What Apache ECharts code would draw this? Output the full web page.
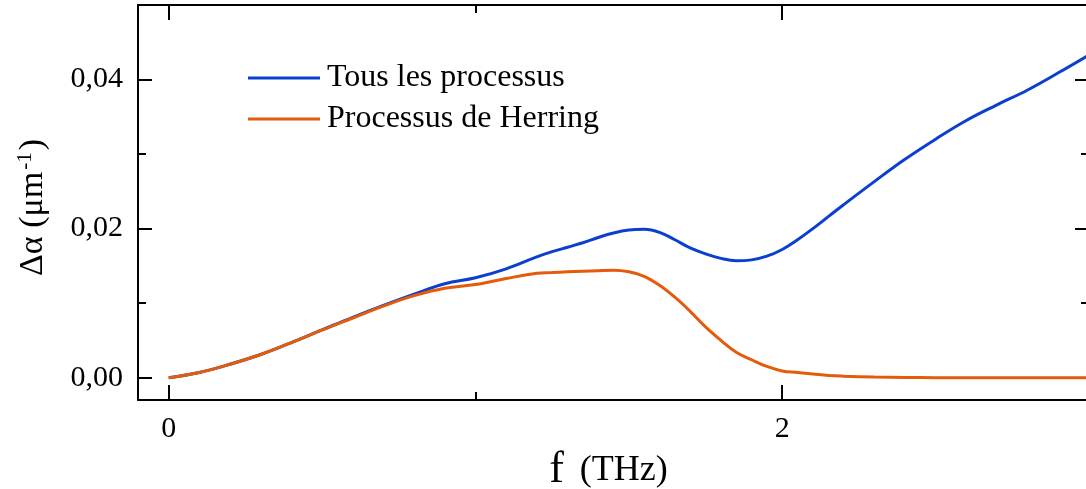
<!DOCTYPE html>
<html>
<head>
<meta charset="utf-8">
<script src="https://cdn.jsdelivr.net/npm/echarts@6/dist/echarts.min.js"></script>
<style>
html,body{margin:0;padding:0;background:#fff;}
#chart{width:1086px;height:489px;}
</style>
</head>
<body>
<div id="chart"></div>
<script>
// Data (frequency in THz, delta alpha in µm^-1)
const freq = [0,0.1,0.2,0.3,0.4,0.5,0.6,0.7,0.8,0.9,1.0,1.1,1.2,1.25,1.3,1.35,1.4,1.45,1.5,1.55,1.6,1.65,1.7,1.75,1.8,1.85,1.9,1.95,2.0,2.05,2.1,2.15,2.2,2.3,2.4,2.5,2.6,2.7,2.8,2.9,3.0];
const tousLesProcessus = [0,0.0007,0.0018,0.0031,0.0047,0.0064,0.0081,0.0097,0.0112,0.0126,0.0134,0.0146,0.0162,0.0169,0.0175,0.0181,0.0188,0.0194,0.0198,0.0199,0.0195,0.0185,0.0174,0.0166,0.0160,0.01568,0.0158,0.0163,0.0172,0.0185,0.0200,0.0216,0.0232,0.0263,0.0293,0.0320,0.0345,0.0366,0.0386,0.0409,0.0433];
const processusHerring = [0,0.0007,0.0018,0.0031,0.0047,0.0064,0.0080,0.0096,0.0110,0.0120,0.0125,0.0133,0.0140,0.0141,0.0142,0.01428,0.01435,0.0144,0.0142,0.0136,0.0124,0.0108,0.0089,0.0068,0.0050,0.0034,0.0024,0.0015,0.0009,0.0007,0.0005,0.0003,0.0002,0.00008,0.00002,0,0,0,0,0,0];
const xMajorTicks = [0, 2];
const xMinorTicks = [1, 3];
const yMajorTicks = [0, 0.02, 0.04];
const yMinorTicks = [0.01, 0.03];
const seriesNames = ['Tous les processus', 'Processus de Herring'];

const FONT = "'Liberation Serif', 'Times New Roman', serif";
const chart = echarts.init(document.getElementById('chart'));
const XMIN = -0.1, XMAX = 3.0, YMIN = -0.003, YMAX = 0.05;
const fmtY = v => v.toFixed(2).replace('.', ',');

function xAx(pos, ticks, len, showLine, showLabel) {
  return {
    type: 'value', position: pos, min: XMIN, max: XMAX,
    axisLine: {show: showLine, onZero: false, lineStyle: {color: '#000', width: 2}},
    axisTick: {show: true, inside: true, length: len, customValues: ticks, lineStyle: {color: '#000', width: 2}},
    axisLabel: {show: showLabel, customValues: ticks, fontFamily: FONT, fontSize: 30, color: '#000', margin: 14},
    splitLine: {show: false}
  };
}
function yAx(pos, ticks, len, showLine, showLabel) {
  return {
    type: 'value', position: pos, min: YMIN, max: YMAX,
    axisLine: {show: showLine, onZero: false, lineStyle: {color: '#000', width: 2}},
    axisTick: {show: true, inside: true, length: len, customValues: ticks, lineStyle: {color: '#000', width: 2}},
    axisLabel: {show: showLabel, customValues: ticks, formatter: fmtY, fontFamily: FONT, fontSize: 30, color: '#000', margin: 15},
    splitLine: {show: false}
  };
}

const xAxes = [
  xAx('bottom', xMajorTicks, 15, true, true),
  xAx('bottom', xMinorTicks, 8, false, false),
  xAx('top', xMajorTicks, 15, true, false),
  xAx('top', xMinorTicks, 8, false, false)
];
xAxes[0].name = '{f|f}{u|(THz)}';
xAxes[0].nameLocation = 'middle';
xAxes[0].nameGap = 45;
xAxes[0].nameTextStyle = {rich: {f: {fontFamily: FONT, fontSize: 44, color: '#000', padding: [0,16,0,0]}, u: {fontFamily: FONT, fontSize: 36, color: '#000', padding: [0,10,0,0]}}};

const yAxes = [
  yAx('left', yMajorTicks, 14, true, true),
  yAx('left', yMinorTicks, 8, false, false),
  yAx('right', yMajorTicks, 14, true, false),
  yAx('right', yMinorTicks, 8, false, false)
];
yAxes[0].name = '{t|Δα (μm}{s|-1}{e|)}';
yAxes[0].nameLocation = 'middle';
yAxes[0].nameGap = 86;
yAxes[0].nameTextStyle = {rich: {
  t: {fontFamily: FONT, fontSize: 34, color: '#000'},
  e: {fontFamily: FONT, fontSize: 34, color: '#000', padding: [0,10,0,0]},
  s: {fontFamily: FONT, fontSize: 21, color: '#000', verticalAlign: 'top', padding: [0,2,16,2]}}};

chart.setOption({
  animation: false,
  backgroundColor: '#fff',
  grid: {left: 138, right: -3, top: 5, bottom: 89, containLabel: false, outerBoundsMode: 'none'},
  legend: {
    orient: 'vertical', left: 248, top: 62, padding: 0, itemWidth: 72, itemHeight: 3, itemGap: 9,
    data: seriesNames,
    textStyle: {fontFamily: FONT, fontSize: 32, color: '#000', padding: [0,0,0,2]},
    icon: 'rect'
  },
  xAxis: xAxes,
  yAxis: yAxes,
  series: [
    {name: seriesNames[0], type: 'line', xAxisIndex: 0, yAxisIndex: 0, smooth: 0.4, symbol: 'none',
     lineStyle: {color: '#0A3FCF', width: 3}, itemStyle: {color: '#0A3FCF'},
     data: freq.map((f, i) => [f, tousLesProcessus[i]])},
    {name: seriesNames[1], type: 'line', xAxisIndex: 0, yAxisIndex: 0, smooth: 0.4, symbol: 'none',
     lineStyle: {color: '#E35B0B', width: 3}, itemStyle: {color: '#E35B0B'},
     data: freq.map((f, i) => [f, processusHerring[i]])}
  ]
});
</script>
</body>
</html>
